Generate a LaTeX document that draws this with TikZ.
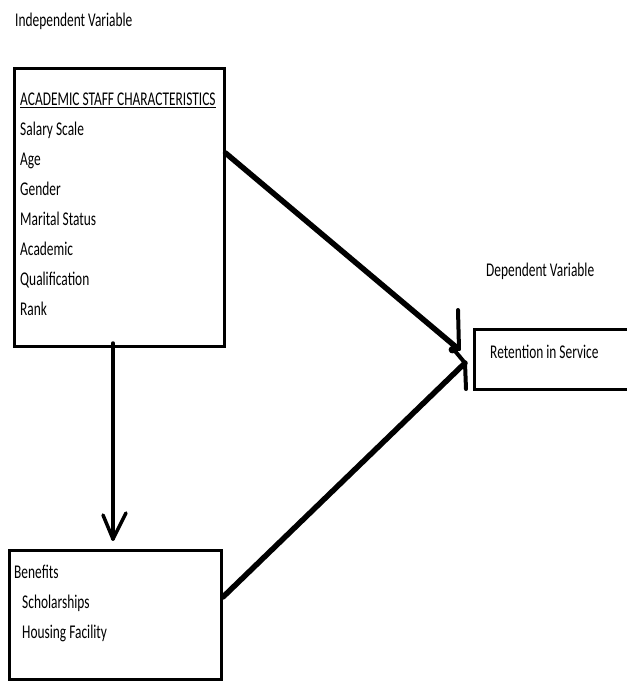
\documentclass[tikz,border=0pt]{standalone}
\usepackage{fontspec}
\setmainfont{Carlito}
\usepackage{graphicx}
\newcommand{\vtxt}[1]{\scalebox{1}[1.45]{#1}}
\tikzset{
  box/.style={draw=black, line width=3pt, fill=none, inner sep=0pt, anchor=north west},
  lbl/.style={inner sep=0pt, anchor=base west, font=\fontsize{13.4}{16}\selectfont, text=black},
  thickarr/.style={line width=5.5pt, line cap=round, line join=round},
  headstroke/.style={line width=4pt, line cap=round, line join=round},
  vertarr/.style={line width=3.5pt, line cap=round, line join=round}
}
\begin{document}
\begin{tikzpicture}[x=1pt, y=-1pt]
\clip (0,0) rectangle (627,681);
\fill[white] (0,0) rectangle (627,681);

% boxes
\node[box, minimum width=210pt, minimum height=278pt] (acs) at (12.5,67) {};
\node[box, minimum width=212pt, minimum height=129pt] (ben) at (8,549) {};
\node[box, minimum width=200pt, minimum height=60pt] (ret) at (473,328) {};

% texts
\node[lbl] (indep) at (15,26) {\vtxt{Independent Variable}};
\node[lbl] (dep) at (486,276) {\vtxt{Dependent Variable}};
\node[lbl] (t0) at (20,105) {\vtxt{\underline{ACADEMIC STAFF CHARACTERISTICS}}};
\node[lbl] (t1) at (20,135) {\vtxt{Salary Scale}};
\node[lbl] (t2) at (20,165) {\vtxt{Age}};
\node[lbl] (t3) at (20,195) {\vtxt{Gender}};
\node[lbl] (t4) at (20,225) {\vtxt{Marital Status}};
\node[lbl] (t5) at (20,255) {\vtxt{Academic}};
\node[lbl] (t6) at (20,285) {\vtxt{Qualification}};
\node[lbl] (t7) at (20,315) {\vtxt{Rank}};
\node[lbl] (b0) at (14,578) {\vtxt{Benefits}};
\node[lbl] (b1) at (22,608) {\vtxt{Scholarships}};
\node[lbl] (b2) at (22,638) {\vtxt{Housing Facility}};
\node[lbl] (r0) at (490,358) {\vtxt{Retention in Service}};

% connector coordinates
\coordinate (a1s) at (acs.east |- 0,153);
\coordinate (a1e) at (456,347);
\coordinate (h1t) at (458,310);
\coordinate (h1b) at (459,349);
\coordinate (a2s) at (ben.east |- 0,597);
\coordinate (a2e) at (465,363);
\coordinate (h2b) at (466,389);
\coordinate (a3s) at (113,343);
\coordinate (a3e) at (113,539);

% arrow from characteristics to retention
\draw[thickarr] (a1s) -- (a1e);
\draw[headstroke] (h1t) -- (h1b);
\draw[headstroke] (h1b) .. controls (450,344) and (447,353) .. (455,351) -- (a2e);
% arrow from benefits to retention
\draw[thickarr] (a2s) -- (a2e);
\draw[headstroke] (a2e) -- (h2b);
% arrow from characteristics to benefits
\draw[vertarr] (a3s) -- (a3e);
\draw[vertarr] (103,515) -- (a3e) -- (126,513);
\end{tikzpicture}
\end{document}
